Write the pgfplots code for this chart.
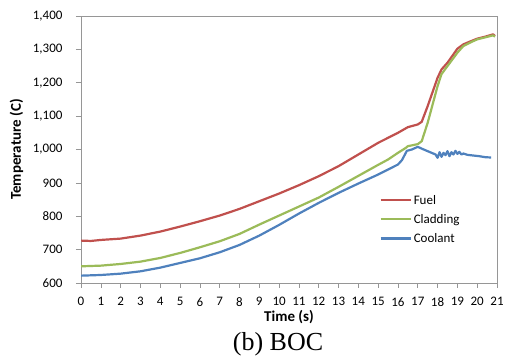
\documentclass[border=0pt]{standalone}
\usepackage{fontspec}
\setmainfont{Carlito}
\newfontfamily\timesfont{Liberation Serif}
\usepackage{pgfplots}
\pgfplotsset{compat=1.18}
\definecolor{fuel}{RGB}{192,80,77}
\definecolor{clad}{RGB}{155,187,89}
\definecolor{cool}{RGB}{79,129,189}
\definecolor{axgray}{RGB}{150,150,150}
\begin{document}
\begin{tikzpicture}
\begin{axis}[
  scale only axis, width=416pt, height=267pt,
  xmin=0, xmax=21, ymin=600, ymax=1400,
  xtick={0,1,...,21}, ytick={600,700,...,1400},
  /pgf/number format/assume math mode=true,
  /pgf/number format/1000 sep={,},
  tick label style={font=\fontsize{13}{13}\selectfont},
  xticklabel shift=6pt,
  yticklabel={\pgfmathprintnumber{\tick}\hspace*{10pt}},
  axis line style={axgray, line width=0.6pt},
  tick style={axgray, line width=0.6pt},
  tick align=outside, xtick pos=lower, ytick pos=left,
  major tick length=5pt,
  xlabel={Time (s)}, ylabel={Temperature (C)},
  every axis x label/.style={at={(axis description cs:0.5,-0.126)}, anchor=center,
    font=\bfseries\fontsize{15}{15}\selectfont},
  every axis y label/.style={at={(axis description cs:-0.155,0.5)}, rotate=90, anchor=center,
    font=\bfseries\fontsize{15}{15}\selectfont},
  legend style={at={(axis description cs:0.71,0.345)}, anchor=north west, draw=none, fill=none,
    font=\fontsize{13}{13}\selectfont, row sep=4.5pt},
  legend cell align=left,
  legend image code/.code={\draw[#1] (0pt,0pt) -- (30pt,0pt);},
  every axis plot/.append style={line width=2.2pt, no markers, line join=round},
]
\addplot[fuel] coordinates {
(0,727) (0.5,726) (1,729) (2,733) (3,742) (4,754) (5,769) (6,785) (7,802) (8,822)
(9,845) (10,868) (11,893) (12,920) (13,950) (14,985) (15,1020) (15.5,1035) (16,1050)
(16.5,1067) (17,1075) (17.2,1083) (17.5,1130) (18,1215) (18.2,1240) (18.5,1260)
(18.8,1285) (19,1302) (19.3,1315) (19.7,1325) (20,1332) (20.4,1338) (20.8,1345) (20.9,1340)
};
\addlegendentry{Fuel}
\addplot[clad] coordinates {
(0,650) (1,652) (2,657) (3,664) (4,675) (5,690) (6,707) (7,725) (8,747) (9,775)
(10,802) (11,829) (12,856) (13,888) (14,921) (15,954) (15.5,970) (16,990) (16.4,1005)
(16.5,1010) (17,1016) (17.2,1025) (17.5,1080) (18,1190) (18.2,1226) (18.5,1250)
(19,1290) (19.3,1310) (19.7,1322) (20,1330) (20.4,1336) (20.8,1342) (20.9,1338)
};
\addlegendentry{Cladding}
\addplot[cool] coordinates {
(0,622) (1,624) (2,628) (3,635) (4,646) (5,660) (6,674) (7,692) (8,714) (9,742)
(10,774) (11,808) (12,840) (13,870) (14,898) (15,925) (15.5,940) (16,955) (16.2,968)
(16.45,996) (16.7,1000) (17,1008) (17.3,1000) (17.7,990) (17.9,985) (18,975) (18.1,992)
(18.2,978) (18.3,990) (18.4,983) (18.5,995) (18.6,980) (18.7,992) (18.8,985) (18.9,996)
(19,987) (19.1,993) (19.2,985) (19.3,988) (19.5,984) (19.8,982) (20.1,980) (20.4,977) (20.7,976)
};
\addlegendentry{Coolant}
\end{axis}
\node[font=\timesfont\fontsize{26}{26}\selectfont] at (197pt,-61pt) {(b) BOC};
\pgfresetboundingbox
\path[use as bounding box] (-81pt,-75pt) rectangle (424pt,283pt);
\end{tikzpicture}
\end{document}
